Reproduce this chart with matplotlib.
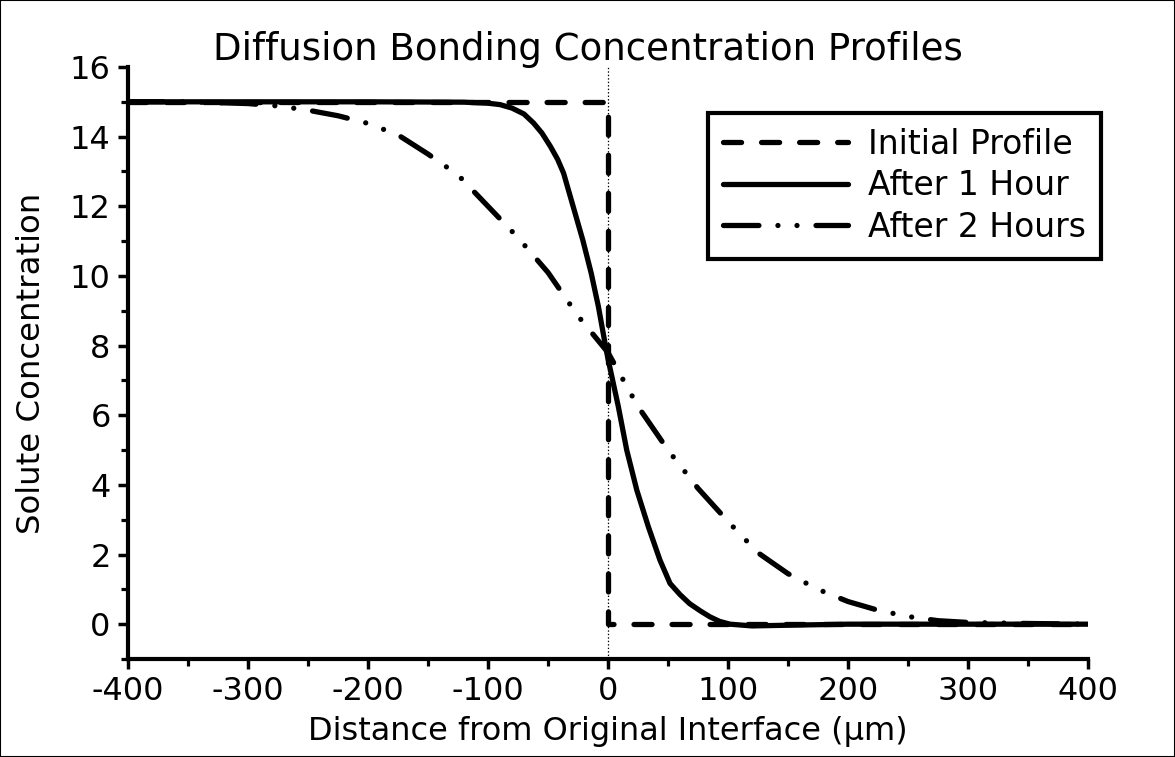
import matplotlib
matplotlib.use("Agg")
import matplotlib.pyplot as plt
from matplotlib.patches import Rectangle

# profile data (distance in um, concentration)
x_init = [-400, 0, 0, 400]
c_init = [15, 15, 0, 0]

x_1h = [-400, -300, -200, -120, -100, -90, -80, -70, -62, -55, -48, -42, -37, -29, -21, -14, -8, -2.5,
        0, 8.6, 15.6, 24, 33.6, 43.3, 51.7, 60, 68, 77, 85, 93, 101.7, 120, 150, 200, 300, 400]
c_1h = [15, 15, 15, 14.99, 14.96, 14.92, 14.82, 14.65, 14.39, 14.1, 13.72, 13.35, 12.95, 11.99, 11.03,
        10.08, 9.12, 8.07, 7.62, 6.25, 5.0, 3.85, 2.8, 1.84, 1.17, 0.85, 0.59, 0.38, 0.21, 0.08, 0.0,
        -0.05, -0.03, 0, 0, 0]

x_2h = [-400, -350, -300, -275, -250, -225, -200, -175, -150, -125, -100, -75, -50, -25,
        0, 25, 50, 75, 100, 125, 150, 175, 200, 225, 250, 275, 300, 350, 400]
c_2h = [15, 15, 14.95, 14.88, 14.76, 14.6, 14.38, 14.05, 13.5, 12.9, 12.0, 11.1, 10.1, 8.85,
        7.8, 6.25, 5.0, 3.9, 2.95, 2.05, 1.45, 1.0, 0.65, 0.4, 0.22, 0.1, 0.05, 0.02, 0.0]

labels = ["Initial Profile", "After 1 Hour", "After 2 Hours"]
x_ticks = list(range(-400, 401, 100))
y_ticks = list(range(0, 17, 2))

W, H = 1175, 757
plt.rcParams['font.family'] = ['DejaVu Sans']
plt.rcParams['font.size'] = 23
plt.rcParams['axes.unicode_minus'] = False
plt.rcParams['lines.scale_dashes'] = False

fig = plt.figure(figsize=(W / 100, H / 100), dpi=100)
fig.subplots_adjust(left=128 / W, right=1088 / W, bottom=1 - 659 / H, top=1 - 67 / H)
ax = fig.add_subplot(111)

lw = 3.8
ax.axvline(0, color="black", lw=0.9, ls=(0, (1, 1.5)), zorder=1)
ax.plot(x_init, c_init, color="black", lw=lw, dashes=(13, 14.4),
        dash_capstyle="round", label=labels[0], zorder=3)
ax.plot(x_1h, c_1h, color="black", lw=lw, solid_capstyle="round",
        solid_joinstyle="round", label=labels[1], zorder=3)
ax.plot(x_2h, c_2h, color="black", lw=lw,
        dashes=(25.5, 13.7, 0.01, 13.7, 0.01, 13.7), dash_capstyle="round",
        label=labels[2], zorder=3)

ax.set_xlim(-400, 400)
ax.set_ylim(-1, 16)
ax.set_xticks(x_ticks)
ax.set_yticks(y_ticks)
ax.set_xticks(range(-350, 400, 100), minor=True)
ax.set_yticks(range(-1, 16, 2), minor=True)
ax.tick_params(which="major", direction="out", length=7, width=2.5, pad=5)
ax.tick_params(axis="y", which="major", pad=5.5)
ax.tick_params(which="minor", direction="out", length=5, width=2.3)

for side in ["top", "right"]:
    ax.spines[side].set_visible(False)
for side in ["left", "bottom"]:
    ax.spines[side].set_linewidth(3)

ax.set_xlabel("Distance from Original Interface (μm)", fontsize=23, labelpad=7)
ax.set_ylabel("Solute Concentration", fontsize=23.3, labelpad=16)
fig.text(0.5, 1 - 50 / H, "Diffusion Bonding Concentration Profiles",
         ha="center", va="center", fontsize=26.7)

leg = ax.legend(loc="upper right", bbox_to_anchor=(1101 / W, 1 - 113 / H),
                bbox_transform=fig.transFigure, borderaxespad=0, fancybox=False,
                fontsize=23.8, handlelength=3.8, handletextpad=0.6,
                labelspacing=0.26, borderpad=0.45, framealpha=1)
leg.get_frame().set_edgecolor("black")
leg.get_frame().set_linewidth(3)

fig.patches.append(Rectangle((0, 0), 1, 1, transform=fig.transFigure, fill=False,
                             edgecolor="black", lw=1.5, zorder=10))

fig.savefig("out.png", dpi=100)
